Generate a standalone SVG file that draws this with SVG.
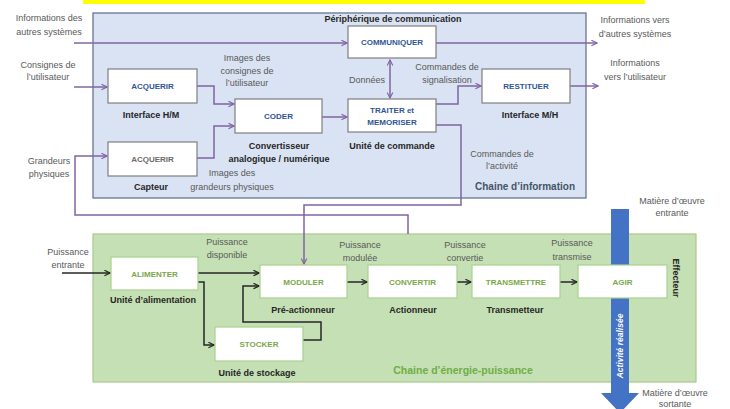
<svg xmlns="http://www.w3.org/2000/svg" width="730" height="409" viewBox="0 0 730 409">
<defs>
<style>
text{font-family:"Liberation Sans",Arial,sans-serif;}
.lb{font-size:9px;fill:#595959;text-anchor:middle;}
.bd{font-size:9px;font-weight:bold;fill:#262626;text-anchor:middle;}
.ib{fill:#ffffff;stroke:#7f7f7f;stroke-width:1.2;}
.eb{fill:#ffffff;stroke:#a9d18e;stroke-width:1.2;}
.it{font-size:8px;font-weight:bold;fill:#2f5597;text-anchor:middle;}
.et{font-size:8px;font-weight:bold;fill:#7aa84a;text-anchor:middle;}
.pl{fill:none;stroke:#8064a2;stroke-width:1.5;}
.kl{fill:none;stroke:#262626;stroke-width:1.5;}
</style>
<marker id="ap" viewBox="0 0 10 10" refX="9" refY="5" markerWidth="7" markerHeight="7" orient="auto-start-reverse" markerUnits="userSpaceOnUse">
<path d="M1,1 L9,5 L1,9" fill="none" stroke="#8064a2" stroke-width="1.6"/>
</marker>
<marker id="ak" viewBox="0 0 10 10" refX="9" refY="5" markerWidth="7" markerHeight="7" orient="auto" markerUnits="userSpaceOnUse">
<path d="M1,1 L9,5 L1,9" fill="none" stroke="#262626" stroke-width="1.6"/>
</marker>
</defs>
<rect x="0" y="0" width="730" height="409" fill="#ffffff"/>
<rect x="83" y="0" width="562" height="4" fill="#ffff00"/>

<g id="chaine-information">
<rect x="93" y="13" width="493" height="185" fill="#dae3f3" stroke="#5b6b8a" stroke-width="1.2"/>
<text x="525" y="190" font-size="10" font-weight="bold" fill="#44546a" text-anchor="middle">Chaine d’information</text>
</g>
<g id="chaine-energie">
<rect x="93" y="234" width="603" height="148" fill="#c5e0b4" stroke="#a9c98a" stroke-width="1.2"/>
<text x="463" y="374" font-size="10.5" font-weight="bold" fill="#70ad47" text-anchor="middle">Chaine d’énergie-puissance</text>
</g>

<g id="matiere-oeuvre">
<path d="M611,209 H629 V393 H639 L620,413 L601,393 H611 Z" fill="#4472c4"/>
<text class="lb" x="672" y="204">Matière d’œuvre</text>
<text class="lb" x="672" y="216">entrante</text>
<text class="lb" x="675" y="396">Matière d’œuvre</text>
<text class="lb" x="675" y="407">sortante</text>
</g>

<g id="connectors">
<path class="pl" d="M74,43 H347" marker-end="url(#ap)"/>
<path class="pl" d="M436,43 H597" marker-end="url(#ap)"/>
<path class="pl" d="M74,87 H107" marker-end="url(#ap)"/>
<path class="pl" d="M197,86 H214 V104 H234" marker-end="url(#ap)"/>
<path class="pl" d="M197,158 H214 V126 H234" marker-end="url(#ap)"/>
<path class="pl" d="M322,117 H347" marker-end="url(#ap)"/>
<path class="pl" d="M390,60 V98" marker-start="url(#ap)" marker-end="url(#ap)"/>
<path class="pl" d="M436,104 H458 V86 H481" marker-end="url(#ap)"/>
<path class="pl" d="M570,86 H598" marker-end="url(#ap)"/>
<path class="pl" d="M436,125 H461 V205 H304 V264" marker-end="url(#ap)"/>
<path class="pl" d="M408,234 V215 H75 V156 H107" marker-end="url(#ap)"/>
<path class="kl" d="M62,273 H110" marker-end="url(#ak)"/>
<path class="kl" d="M198,273 H259" marker-end="url(#ak)"/>
<path class="kl" d="M198,282 H204 V345 H214" marker-end="url(#ak)"/>
<path class="kl" d="M303,340 H321 V322 H243 V286 H259" marker-end="url(#ak)"/>
<path class="kl" d="M347,282 H367" marker-end="url(#ak)"/>
<path class="kl" d="M457,282 H471" marker-end="url(#ak)"/>
<path class="kl" d="M560,282 H577" marker-end="url(#ak)"/>
</g>

<g id="labels">
<text class="lb" x="49" y="21">Informations des</text>
<text class="lb" x="49" y="35">autres systèmes</text>
<text class="lb" x="48" y="68">Consignes de</text>
<text class="lb" x="48" y="80">l’utilisateur</text>
<text class="lb" x="49" y="164">Grandeurs</text>
<text class="lb" x="49" y="177">physiques</text>
<text class="lb" x="247" y="61">Images des</text>
<text class="lb" x="247" y="74">consignes de</text>
<text class="lb" x="247" y="86">l’utilisateur</text>
<text class="lb" x="232" y="176">Images des</text>
<text class="lb" x="232" y="190">grandeurs physiques</text>
<text class="lb" x="367" y="83">Données</text>
<text class="lb" x="447" y="70">Commandes de</text>
<text class="lb" x="447" y="83">signalisation</text>
<text class="lb" x="635" y="23">Informations vers</text>
<text class="lb" x="635" y="37">d’autres systèmes</text>
<text class="lb" x="635" y="66">Informations</text>
<text class="lb" x="635" y="80">vers l’utilisateur</text>
<text class="lb" x="502" y="157">Commandes de</text>
<text class="lb" x="502" y="169">l’activité</text>
<text class="lb" x="68" y="255">Puissance</text>
<text class="lb" x="68" y="268">entrante</text>
<text class="lb" x="227" y="245">Puissance</text>
<text class="lb" x="227" y="258">disponible</text>
<text class="lb" x="360" y="248">Puissance</text>
<text class="lb" x="360" y="261">modulée</text>
<text class="lb" x="465" y="248">Puissance</text>
<text class="lb" x="465" y="261">convertie</text>
<text class="lb" x="572" y="246">Puissance</text>
<text class="lb" x="572" y="260">transmise</text>
</g>

<g id="communiquer">
<rect class="ib" x="348" y="26" width="88" height="32"/>
<text class="it" x="392" y="45">COMMUNIQUER</text>
<text class="bd" x="393" y="22">Périphérique de communication</text>
</g>
<g id="acquerir-hm">
<rect class="ib" x="108" y="69" width="89" height="34"/>
<text class="it" x="152.5" y="89">ACQUERIR</text>
<text class="bd" x="151" y="118">Interface H/M</text>
</g>
<g id="acquerir-capteur">
<rect class="ib" x="108" y="142" width="89" height="34"/>
<text class="it" x="152.5" y="162" style="fill:#6b6b6b">ACQUERIR</text>
<text class="bd" x="151" y="190">Capteur</text>
</g>
<g id="coder">
<rect class="ib" x="235" y="99" width="87" height="34"/>
<text class="it" x="278.5" y="119">CODER</text>
<text class="bd" x="279" y="149">Convertisseur</text>
<text class="bd" x="279" y="162">analogique / numérique</text>
</g>
<g id="traiter">
<rect class="ib" x="348" y="99" width="88" height="33"/>
<text class="it" x="392" y="113">TRAITER et</text>
<text class="it" x="392" y="125">MEMORISER</text>
<text class="bd" x="392" y="149">Unité de commande</text>
</g>
<g id="restituer">
<rect class="ib" x="482" y="69" width="88" height="34"/>
<text class="it" x="526" y="89">RESTITUER</text>
<text class="bd" x="530" y="118">Interface M/H</text>
</g>

<g id="alimenter">
<rect class="eb" x="111" y="257" width="87" height="33"/>
<text class="et" x="154.5" y="276.5">ALIMENTER</text>
<text class="bd" x="153" y="303">Unité d’alimentation</text>
</g>
<g id="moduler">
<rect class="eb" x="260" y="265" width="87" height="33"/>
<text class="et" x="303.5" y="284.5">MODULER</text>
<text class="bd" x="303" y="313">Pré-actionneur</text>
</g>
<g id="convertir">
<rect class="eb" x="368" y="265" width="89" height="33"/>
<text class="et" x="412.5" y="284.5">CONVERTIR</text>
<text class="bd" x="413" y="313">Actionneur</text>
</g>
<g id="transmettre">
<rect class="eb" x="472" y="265" width="88" height="33"/>
<text class="et" x="516" y="284.5">TRANSMETTRE</text>
<text class="bd" x="515" y="313">Transmetteur</text>
</g>
<g id="agir">
<rect class="eb" x="578" y="265" width="89" height="33"/>
<text class="et" x="622.5" y="284.5">AGIR</text>
<text class="bd" transform="translate(673,278) rotate(90)" x="0" y="0">Effecteur</text>
</g>
<g id="stocker">
<rect class="eb" x="215" y="327" width="88" height="34"/>
<text class="et" x="259" y="347">STOCKER</text>
<text class="bd" x="257" y="376">Unité de stockage</text>
</g>
<text transform="translate(623,346) rotate(-90)" x="0" y="0" font-size="8.5" font-weight="bold" font-style="italic" fill="#ffffff" text-anchor="middle">Activité réalisée</text>
</svg>
